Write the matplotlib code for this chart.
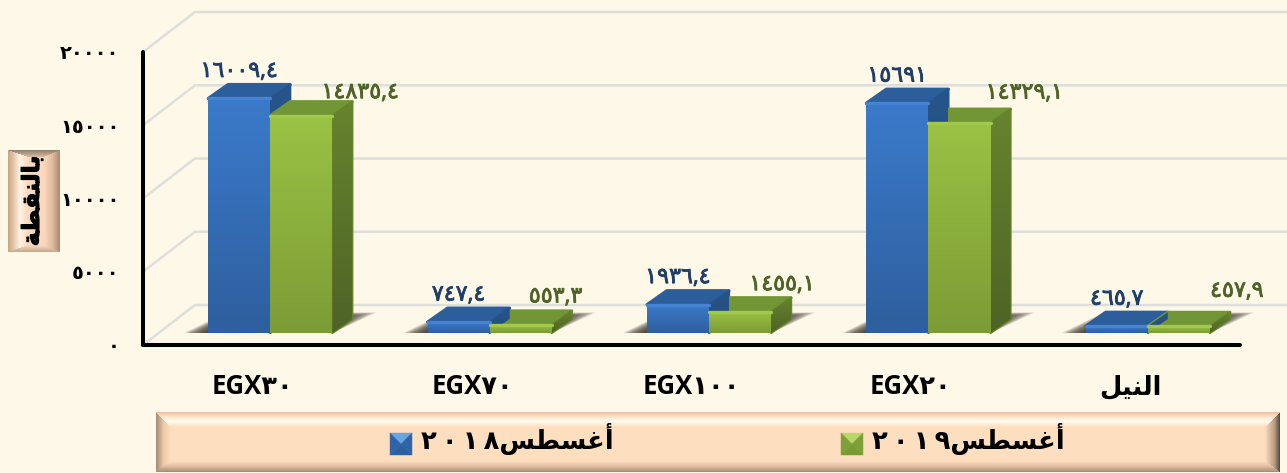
import numpy as np
import matplotlib
matplotlib.use("Agg")
import matplotlib.pyplot as plt
import matplotlib.patheffects as pe
from matplotlib.colors import to_rgb
from matplotlib.patches import Polygon

# Arabic is written in presentation forms, in visual order (matplotlib does no shaping)
categories = ["EGX٣٠", "EGX٧٠", "EGX١٠٠", "EGX٢٠", "\ufede\ufef4\ufee8\ufedf\ufe8d"]
values_2018 = [16009.4, 747.4, 1936.4, 15691, 465.7]
values_2019 = [14835.4, 553.3, 1455.1, 14329.1, 457.9]
labels_2018 = ["١٦٠٠٩,٤", "٧٤٧,٤", "١٩٣٦,٤", "١٥٦٩١", "٤٦٥,٧"]
labels_2019 = ["١٤٨٣٥,٤", "٥٥٣,٣", "١٤٥٥,١", "١٤٣٢٩,١", "٤٥٧,٩"]
yticks = [0, 5000, 10000, 15000, 20000]
ytick_labels = ["٠", "٥٠٠٠", "١٠٠٠٠", "١٥٠٠٠", "٢٠٠٠٠"]
series_2018 = "٢\u2009٠\u2009١\u2009٨\ufeb2\ufec4\ufeb4\ufecf\ufe83"
series_2019 = "٢\u2009٠\u2009١\u2009٩\ufeb2\ufec4\ufeb4\ufecf\ufe83"
ylabel = "\ufe94\ufec4\ufed8\ufee8\ufedf\ufe8e\ufe91"

W, H = 1287, 473
BG = "#fef8e9"
plt.rcParams["font.family"] = ["Open Sans", "DejaVu Sans"]

fig = plt.figure(figsize=(W / 100, H / 100), dpi=100, facecolor=BG)
ax = fig.add_axes([143 / W, (H - 345) / H, 1097 / W, 293 / H], facecolor="none")

# oblique projection: how far the back wall and the bars sit from the front plane
WALL_DX, WALL_DY = 0.237, 2730
BAR_DX, BAR_DY = 0.08, 820
TOP_DX, TOP_DY = 0.091, 955
BAR_W = 0.283

z_next = [3.0]


def grad_poly(verts, c1, c2):
    verts = np.array(verts)
    x0, x1 = verts[:, 0].min(), verts[:, 0].max()
    y0, y1 = verts[:, 1].min(), verts[:, 1].max()
    a, b = np.array(to_rgb(c1)), np.array(to_rgb(c2))
    t = np.linspace(0, 1, 64)[:, None, None]
    im = ax.imshow(a + (b - a) * t, extent=(x0, x1, y0, y1), origin="upper", aspect="auto",
                   zorder=z_next[0], interpolation="bilinear")
    im.set_clip_path(Polygon(verts, closed=True, transform=ax.transData))
    z_next[0] += 0.001


# back wall grid
for v in yticks:
    ax.plot([-0.5, -0.5 + WALL_DX, 4.715], [v, v + WALL_DY, v + WALL_DY], color="#dededc", lw=1.8,
            clip_on=False, zorder=1, solid_capstyle="butt")


def shadow(left, right):
    px = 1 / 219.5
    for i in range(14):
        k = i / 14
        xs = [left - (24 - 24 * k) * px, left + (18 + 8 * k) * px, right + (44 - 40 * k) * px, right]
        ys = [BAR_DY, BAR_DY + (1400 - 350 * k), BAR_DY + (1400 - 350 * k), BAR_DY]
        ax.add_patch(Polygon(list(zip(xs, ys)), closed=True, facecolor="#3e372e", edgecolor="none",
                             alpha=0.15, zorder=2, clip_on=False))


def bar3d(x, vals, front, side, top, light):
    rects = ax.bar(x, vals, BAR_W, bottom=BAR_DY, color=front[0], zorder=3)
    for rect in rects:
        x0, x1 = rect.get_x(), rect.get_x() + rect.get_width()
        y0, y1 = rect.get_y(), rect.get_y() + rect.get_height()
        tx, ty = TOP_DX, TOP_DY
        ax.add_patch(Polygon([(x0, y1), (x1, y1), (x1 + tx, y1 + ty), (x0 + tx, y1 + ty)], closed=True,
                             facecolor=top, edgecolor=top, lw=2.2, joinstyle="round", zorder=3))
        ax.add_patch(Polygon([(x1, y0), (x1 + tx, y0 + ty), (x1 + tx, y1 + ty), (x1, y1)], closed=True,
                             facecolor=side[0], edgecolor=side[0], lw=1.6, joinstyle="round", zorder=3))
        grad_poly([(x1, y0), (x1 + tx, y0 + ty), (x1 + tx, y1 + ty), (x1, y1)], side[0], side[1])
        grad_poly([(x0, y0), (x1, y0), (x1, y1), (x0, y1)], front[0], front[1])
        ax.plot([x0, x1], [y1, y1], color=light, lw=2.4, zorder=4, solid_capstyle="round")


x = np.arange(len(categories)) + BAR_DX
for i in range(len(categories)):
    shadow(x[i] - BAR_W, x[i] + BAR_W)

bar3d(x - BAR_W / 2, values_2018, ("#3b7aca", "#2e5f9e"), ("#275589", "#234c7c"), "#2c5e9c", "#4484d2")
bar3d(x + BAR_W / 2, values_2019, ("#9ac243", "#7c9c36"), ("#66842e", "#4e6326"), "#729636", "#a2c94e")

# labels sit above each bar; offsets in pixels from the back of the top face
green_dx = [59, 35, 42, 65, 58]
green_dy = [9, 14, 13, 16, 21]
for i in range(len(categories)):
    t1 = ax.annotate(labels_2018[i], (x[i] - BAR_W / 2, BAR_DY + values_2018[i] + TOP_DY), xytext=(0, 13),
                     textcoords="offset pixels", ha="center", va="center", color="#1f3f68", fontsize=16,
                     zorder=6, annotation_clip=False)
    t2 = ax.annotate(labels_2019[i], (x[i] + BAR_W / 2, BAR_DY + values_2019[i] + TOP_DY),
                     xytext=(green_dx[i], green_dy[i]), textcoords="offset pixels", ha="center", va="center",
                     color="#4f6228", fontsize=16, zorder=6, annotation_clip=False)
    t1.set_path_effects([pe.withStroke(linewidth=0.6, foreground="#1f3f68")])
    t2.set_path_effects([pe.withStroke(linewidth=0.6, foreground="#4f6228")])

ax.set_xlim(-0.5, 4.5)
ax.set_ylim(0, 20000)
ax.set_xticks(range(len(categories)), categories, fontsize=18.5, fontweight="bold")
ax.set_yticks(yticks, ytick_labels, fontsize=14, fontweight="bold")
ax.tick_params(axis="x", length=0, pad=20)
ax.tick_params(axis="y", length=0, pad=17)
for s in ["top", "right"]:
    ax.spines[s].set_visible(False)
for s in ["left", "bottom"]:
    ax.spines[s].set_linewidth(2.9)
    ax.spines[s].set_capstyle("round")

# overlay in pixel coordinates for the bevelled boxes
ov = fig.add_axes([0, 0, 1, 1], facecolor="none")
ov.axis("off")


def ramp(d, stops):
    pos = [s[0] for s in stops]
    cols = np.array([to_rgb(s[1]) for s in stops])
    return np.stack([np.interp(d, pos, cols[:, c]) for c in range(3)], axis=-1)


def bevel_box(x0, y0, x1, y1, bt, bb, bl, br, face, top, bottom, left, right):
    w, h = int(x1 - x0), int(y1 - y0)
    xx, yy = np.meshgrid(np.arange(w) + 0.5, np.arange(h) + 0.5)
    dist = np.stack([yy / bt, (h - yy) / bb, xx / bl, (w - xx) / br])
    side = np.argmin(dist, axis=0)
    img = np.zeros((h, w, 3)) + np.array(to_rgb(face))
    for k, stops in enumerate([top, bottom, left, right]):
        m = (side == k) & (dist[k] < 1)
        img[m] = ramp(dist[k][m], stops)
    ov.imshow(img, extent=(x0, x1, y1, y0), aspect="auto", zorder=2, interpolation="bilinear")


LEG_FACE = "#fddfc0"
bevel_box(156, 412, 1280, 472, 15, 11, 15, 15, LEG_FACE,
          [(0, "#e8bea0"), (0.25, "#fbdcc0"), (0.6, "#fffdf0"), (1, LEG_FACE)],
          [(0, "#a58a76"), (0.5, "#e0bea2"), (1, LEG_FACE)],
          [(0, "#a08a78"), (0.5, "#ecc8a8"), (1, LEG_FACE)],
          [(0, "#4e463e"), (0.35, "#b49880"), (1, LEG_FACE)])

BOX_FACE = "#fcd9be"
bevel_box(8, 150, 60, 252, 7, 7, 20, 16, BOX_FACE,
          [(0, "#8c8070"), (1, "#d8bca0")],
          [(0, "#c8a688"), (1, "#f6dcc4")],
          [(0, "#c4a284"), (0.3, "#e8c8aa"), (0.6, "#fff4e6"), (1, BOX_FACE)],
          [(0, "#a88a70"), (0.5, "#e0bea0"), (1, BOX_FACE)])


def swatch(x0, y0, s, c_top, c_side, c_bot):
    cx, cy = x0 + s / 2, y0 + s / 2
    pts = [(x0, y0), (x0 + s, y0), (x0 + s, y0 + s), (x0, y0 + s)]
    cols = [c_top, c_side, c_bot, c_side]
    for i in range(4):
        ov.add_patch(Polygon([pts[i], pts[(i + 1) % 4], (cx, cy)], closed=True, facecolor=cols[i],
                             edgecolor=cols[i], lw=0.3, zorder=5))


swatch(390, 433, 22, "#6aa5e0", "#2f65a8", "#2c5f9e")
swatch(841, 433, 22, "#b8d96a", "#7f9f38", "#7a9a34")
ov.text(517, 439, series_2018, ha="center", va="center", fontsize=18.5, fontweight="bold", color="black", zorder=6)
ov.text(968, 439, series_2019, ha="center", va="center", fontsize=18.5, fontweight="bold", color="black", zorder=6)

yl = ov.text(33, 201, ylabel, rotation=90, ha="center", va="center", fontsize=17, fontweight="bold", color="black", zorder=6)
yl.set_path_effects([pe.withStroke(linewidth=0.8, foreground="black")])

ov.set_xlim(0, W)
ov.set_ylim(H, 0)

fig.savefig("out.png", dpi=100, facecolor=BG)
